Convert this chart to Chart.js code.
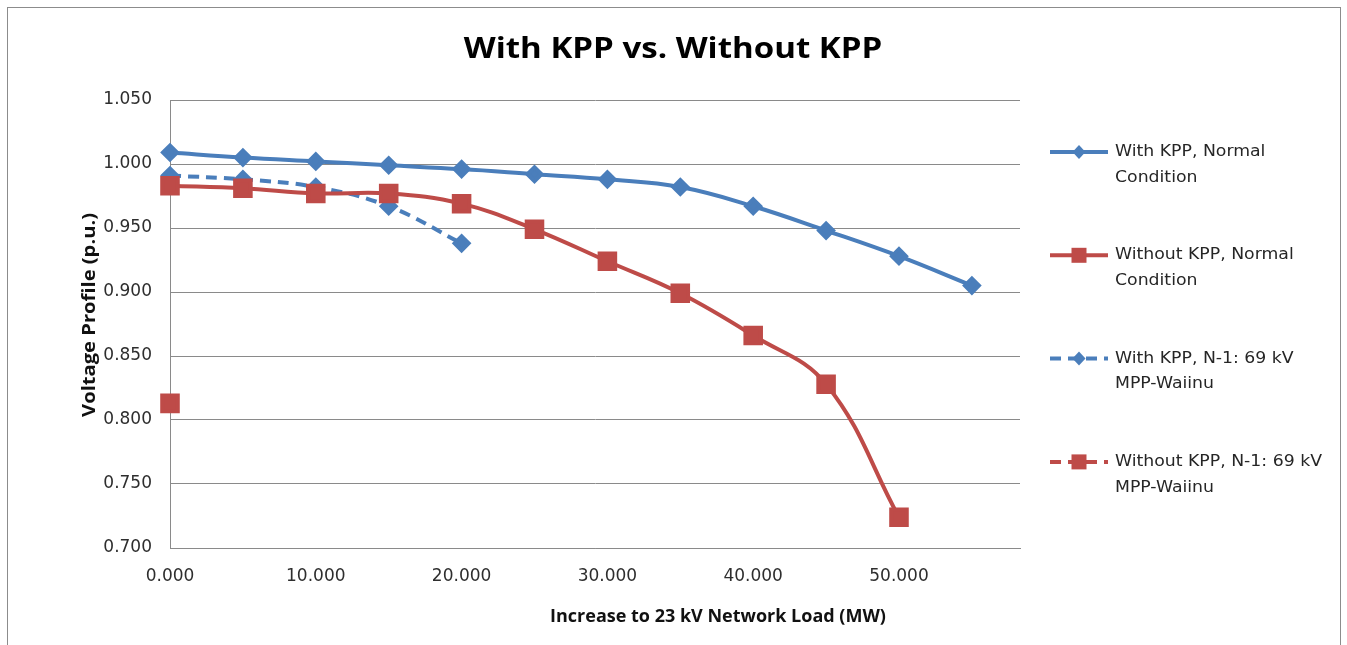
<!DOCTYPE html>
<html>
<head>
<meta charset="utf-8">
<script src="https://cdn.jsdelivr.net/npm/chart.js@4/dist/chart.umd.min.js"></script>
<style>
  html, body { margin: 0; padding: 0; background: #fff; }
  #wrap { position: relative; width: 1347px; height: 645px; overflow: hidden; }
  #frame { position: absolute; left: 7px; top: 7px; width: 1334px; height: 700px; border: 1px solid #8c8c8c; box-sizing: border-box; }
  #wrap canvas { position: absolute; left: 0; top: 0; }
</style>
</head>
<body>
<div id="wrap">
  <div id="frame"></div>
  <canvas id="myChart" width="1347" height="645"></canvas>
</div>
<script>
// load increase (MW) on the x axis
const loads = [0, 5, 10, 15, 20, 25, 30, 35, 40, 45, 50, 55];

const withKppNormal    = [1.009, 1.005, 1.002, 0.999, 0.996, 0.992, 0.988, 0.982, 0.967, 0.948, 0.928, 0.905];
const withoutKppNormal = [0.983, 0.981, 0.977, 0.977, 0.969, 0.949, 0.924, 0.899, 0.866, 0.828, 0.724, null];
const withKppN1        = [0.991, 0.988, 0.982, 0.967, 0.938, null, null, null, null, null, null, null];
const withoutKppN1     = [0.813, null, null, null, null, null, null, null, null, null, null, null];

const seriesNames = [
  ['With KPP, Normal', 'Condition'],
  ['Without KPP, Normal', 'Condition'],
  ['With KPP, N-1: 69 kV', 'MPP-Waiinu'],
  ['Without KPP, N-1: 69 kV', 'MPP-Waiinu']
];

const chartTitle = 'With KPP vs. Without KPP';
const xTitle = 'Increase to 23 kV Network Load (MW)';
const yTitle = 'Voltage Profile (p.u.)';

const xTickValues = [0, 10, 20, 30, 40, 50];
const yTickValues = [0.700, 0.750, 0.800, 0.850, 0.900, 0.950, 1.000, 1.050];

const BLUE = '#4a7ebb';
const RED = '#be4b48';

function pairs(values) {
  return loads.map((x, i) => ({ x: x, y: values[i] }));
}

// text a bit wider than the installed fonts, like the original
function stretchedText(ctx, text, x, y, font, sx, align) {
  ctx.save();
  ctx.font = font;
  ctx.textAlign = align;
  ctx.translate(x, y);
  ctx.scale(sx, 1);
  ctx.fillText(text, 0, 0);
  ctx.restore();
}

// title, axis titles and the right-hand legend
const excelDecor = {
  id: 'excelDecor',
  afterDraw(chart) {
    const ctx = chart.ctx;
    ctx.save();
    ctx.textBaseline = 'alphabetic';
    ctx.fillStyle = '#000';
    stretchedText(ctx, chartTitle, 673, 58, 'bold 28px "Open Sans"', 1.18, 'center');

    ctx.fillStyle = '#111';
    stretchedText(ctx, xTitle, 718, 622, 'bold 18px "Open Sans"', 1.0, 'center');

    ctx.save();
    ctx.translate(95, 315);
    ctx.rotate(-Math.PI / 2);
    stretchedText(ctx, yTitle, 0, 0, 'bold 18px "Open Sans"', 1.12, 'center');
    ctx.restore();

    chart.data.datasets.forEach((ds, i) => {
      const y = 152 + i * 103.3;
      ctx.strokeStyle = ds.borderColor;
      ctx.lineWidth = 4;
      ctx.setLineDash(ds.borderDash || []);
      ctx.beginPath();
      ctx.moveTo(1050, y);
      ctx.lineTo(1108, y);
      ctx.stroke();
      ctx.setLineDash([]);
      ctx.fillStyle = ds.pointBackgroundColor;
      ctx.beginPath();
      if (ds.pointStyle === 'rect') {
        ctx.rect(1079 - 7.5, y - 7.5, 15, 15);
      } else {
        ctx.moveTo(1079, y - 7);
        ctx.lineTo(1085.5, y);
        ctx.lineTo(1079, y + 7);
        ctx.lineTo(1072.5, y);
        ctx.closePath();
      }
      ctx.fill();
      ctx.fillStyle = '#262626';
      ctx.textBaseline = 'middle';
      seriesNames[i].forEach((line, k) => {
        stretchedText(ctx, line, 1115, y + k * 25.5, '16px "DejaVu Sans"', 1.08, 'left');
      });
    });
    ctx.restore();
  }
};

const ctx = document.getElementById('myChart').getContext('2d');

new Chart(ctx, {
  type: 'line',
  data: {
    datasets: [
      {
        label: seriesNames[0].join(' '),
        data: pairs(withKppNormal),
        borderColor: BLUE,
        backgroundColor: BLUE,
        pointBackgroundColor: BLUE,
        pointBorderColor: BLUE,
        pointStyle: 'rectRot',
        pointRadius: 7,
        borderWidth: 4,
        tension: 0.4
      },
      {
        label: seriesNames[1].join(' '),
        data: pairs(withoutKppNormal),
        borderColor: RED,
        backgroundColor: RED,
        pointBackgroundColor: RED,
        pointBorderColor: RED,
        pointStyle: 'rect',
        pointRadius: 11,
        borderWidth: 4,
        tension: 0.4
      },
      {
        label: seriesNames[2].join(' '),
        data: pairs(withKppN1),
        borderColor: BLUE,
        backgroundColor: BLUE,
        pointBackgroundColor: BLUE,
        pointBorderColor: BLUE,
        pointStyle: 'rectRot',
        pointRadius: 7,
        borderWidth: 4,
        borderDash: [11, 7],
        tension: 0.4
      },
      {
        label: seriesNames[3].join(' '),
        data: pairs(withoutKppN1),
        borderColor: RED,
        backgroundColor: RED,
        pointBackgroundColor: RED,
        pointBorderColor: RED,
        pointStyle: 'rect',
        pointRadius: 11,
        borderWidth: 4,
        borderDash: [11, 7],
        tension: 0.4
      }
    ]
  },
  plugins: [excelDecor],
  options: {
    responsive: false,
    animation: false,
    events: [],
    clip: false,
    layout: {
      padding: { left: 0, right: 327, top: 100, bottom: 0 }
    },
    plugins: {
      legend: { display: false },
      tooltip: { enabled: false },
      title: { display: false }
    },
    scales: {
      x: {
        type: 'linear',
        min: 0,
        max: 58.3,
        afterFit(scale) { scale.height = 97; },
        afterBuildTicks(scale) {
          scale.ticks = xTickValues.map(v => ({ value: v }));
        },
        grid: { display: false, drawTicks: false },
        border: { display: true, color: '#8a8a8a', width: 1 },
        ticks: {
          padding: 18,
          color: '#2e2e2e',
          font: { family: '"DejaVu Sans"', size: 17 },
          callback: v => v.toFixed(3)
        }
      },
      y: {
        min: 0.7,
        max: 1.05,
        afterFit(scale) { scale.width = 170; },
        afterBuildTicks(scale) {
          scale.ticks = yTickValues.map(v => ({ value: v }));
        },
        grid: { color: '#8a8a8a', lineWidth: 1, drawTicks: false },
        border: { display: true, color: '#8a8a8a', width: 1 },
        ticks: {
          padding: 18,
          color: '#2e2e2e',
          font: { family: '"DejaVu Sans"', size: 17 },
          callback: v => v.toFixed(3)
        }
      }
    }
  }
});
</script>
</body>
</html>
